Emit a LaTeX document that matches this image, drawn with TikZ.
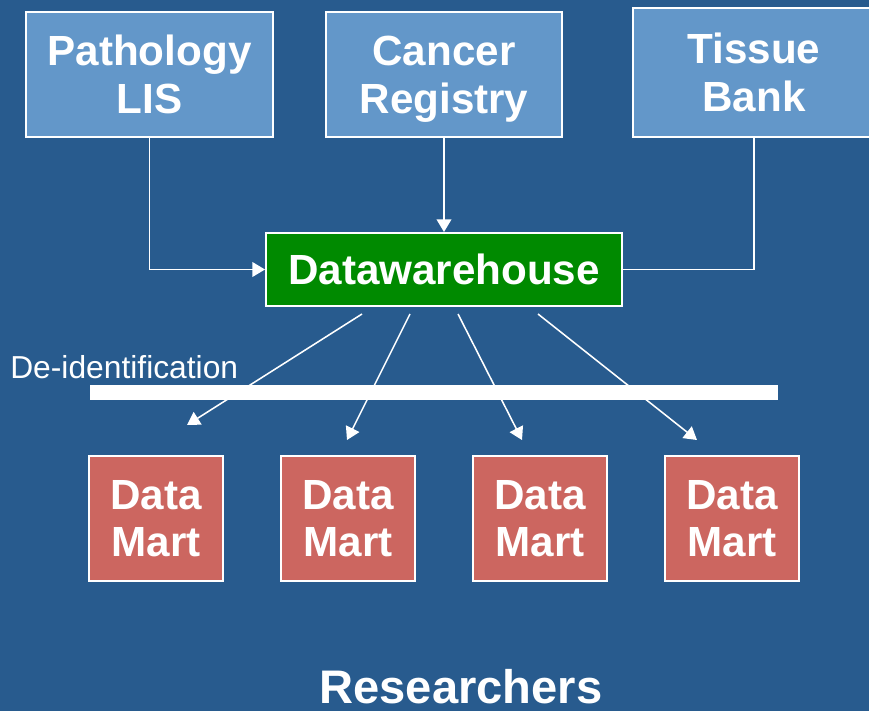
\documentclass[tikz,border=0pt]{standalone}
\usepackage{fontspec}
\setmainfont{Liberation Sans}
\usetikzlibrary{positioning,calc,arrows.meta}
\definecolor{slideblue}{RGB}{40,91,142}
\definecolor{srcblue}{RGB}{99,151,201}
\definecolor{dwgreen}{RGB}{0,138,0}
\definecolor{martred}{RGB}{204,102,96}

\begin{document}
\begin{tikzpicture}[x=0.025cm,y=-0.025cm,>={Triangle[length=9pt,width=10.5pt]},
      box/.style={draw=white,line width=1.4pt,text=white,align=center,inner sep=0pt,
        text depth=0pt,font=\fontsize{30}{34}\selectfont\bfseries},
      src node/.style={box,fill=srcblue,minimum height=3.125cm},
      mart node/.style={box,fill=martred,minimum width=3.35cm,minimum height=3.125cm},
      link/.style={white,line width=1.1pt}]
      \useasboundingbox[fill=slideblue] (0,0) rectangle (869,711);

      % sources
      \node[src node,minimum width=6.175cm] (path) at (149.5,74.5) {Pathology\\LIS};
      \node[src node,minimum width=5.9cm] (canc) at (444,74.5) {Cancer\\Registry};
      \node[src node,minimum width=6.05cm,minimum height=3.225cm] (tiss) at (754,72.5) {Tissue\\Bank};

      \node[box,fill=dwgreen,minimum width=8.9cm,minimum height=1.825cm] (dw) at (444,269.5) {Datawarehouse};

      \draw[link,->] (path.south) |- (dw.west);
      \draw[link,->] (canc.south) -- (dw.north);
      \draw[link] (tiss.south) |- (dw.east);

      % de-identification
      \fill[white] (90,385) rectangle (778,400);
      \node[text=white,anchor=west,inner sep=0pt,font=\fontsize{22.6}{26}\selectfont] (deid) at (10,367) {De-identification};

      % marts
      \node[mart node] (m1) at (156,518.5) {Data\\Mart};
      \node[mart node] (m2) [right=1.4cm of m1] {Data\\Mart};
      \node[mart node] (m3) [right=1.4cm of m2] {Data\\Mart};
      \node[mart node] (m4) [right=1.4cm of m3] {Data\\Mart};

      \coordinate (d1) at (187,425);
      \coordinate (d2) at (347,440);
      \coordinate (d3) at (522,440);
      \coordinate (d4) at (697,440);

      \draw[link,->] ($(dw.south)+(-82,7)$) -- (d1);
      \draw[link,->] ($(dw.south)+(-34,7)$) -- (d2);
      \draw[link,->] ($(dw.south)+(14,7)$) -- (d3);
      \draw[link,->] ($(dw.south)+(94,7)$) -- (d4);

      \node[text=white,anchor=base,inner sep=0pt,font=\fontsize{33.5}{38}\selectfont\bfseries] (res) at (461,703) {Researchers};
\end{tikzpicture}
\end{document}
